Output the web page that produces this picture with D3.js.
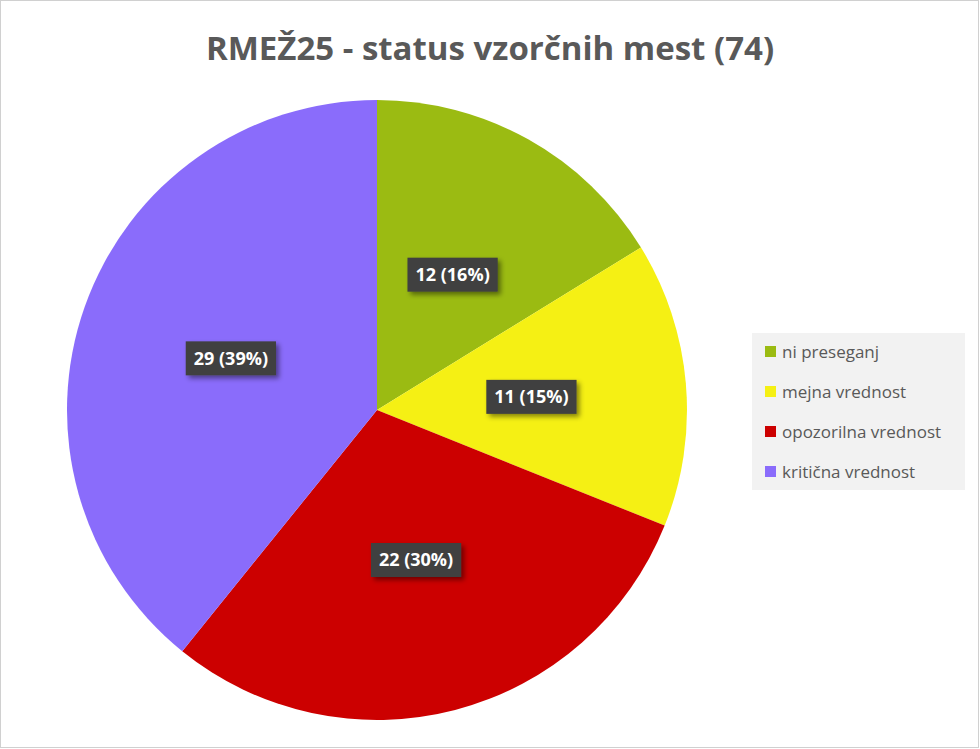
<!DOCTYPE html>
<html><head><meta charset="utf-8">
<script src="https://cdn.jsdelivr.net/npm/d3@7"></script>
<style>body{margin:0;background:#fff}svg{display:block}</style>
</head><body>
<script>
const categories = ["ni preseganj", "mejna vrednost", "opozorilna vrednost", "kritična vrednost"];
const values = [12, 11, 22, 29];
const colors = ["#9bbb12", "#f5f014", "#cc0000", "#8a6cfb"];
const titleText = "RMEŽ25 - status vzorčnih mest (74)";

const W = 980, H = 749;
const svg = d3.select("body").append("svg").attr("width", W).attr("height", H);
const defs = svg.append("defs");
const f = defs.append("filter").attr("id","sh").attr("x","-20%").attr("y","-20%").attr("width","150%").attr("height","160%");
f.append("feDropShadow").attr("dx",3).attr("dy",3).attr("stdDeviation",2.5).attr("flood-color","#000").attr("flood-opacity",0.45);

svg.append("rect").attr("x",0.5).attr("y",0.5).attr("width",W-2).attr("height",H-2).attr("fill","#fff").attr("stroke","#d0d0d0");

svg.append("text").attr("x",490).attr("y",60).attr("text-anchor","middle")
  .attr("font-family","Open Sans, sans-serif").attr("font-weight","bold").attr("font-size",33)
  .attr("fill","#595959").text(titleText);

const total = d3.sum(values);
const cx = 377, cy = 410, R = 310;
const pie = d3.pie().sort(null).value(d => d);
const arcs = pie(values);
const arc = d3.arc().innerRadius(0).outerRadius(R);
const g = svg.append("g").attr("transform", `translate(${cx},${cy})`);
g.selectAll("path").data(arcs).join("path").attr("d", arc).attr("fill", (d,i) => colors[i]);

const lab = g.selectAll("g.l").data(arcs).join("g").attr("class","l")
  .attr("transform", d => `translate(${arc.centroid(d)})`);
lab.each(function(d){
  const s = d3.select(this);
  const txt = `${d.data} (${Math.round(d.data/total*100)}%)`;
  const r = s.append("rect").attr("fill","#404040").attr("filter","url(#sh)");
  const t = s.append("text").attr("text-anchor","middle").attr("dy","0.36em")
    .attr("font-family","Open Sans, sans-serif").attr("font-weight","bold").attr("font-size",18)
    .attr("fill","#fff").text(txt);
  const b = t.node().getBBox();
  r.attr("x", b.x-8).attr("y", -17).attr("width", b.width+16).attr("height", 34);
});

svg.append("rect").attr("x",752).attr("y",333).attr("width",213).attr("height",157).attr("fill","#f2f2f2");
const leg = svg.selectAll("g.lg").data(categories).join("g").attr("class","lg")
  .attr("transform",(d,i)=>`translate(765,${352+i*40})`);
leg.append("rect").attr("x",0).attr("y",-6).attr("width",11).attr("height",11).attr("fill",(d,i)=>colors[i]);
leg.append("text").attr("x",17).attr("dy","0.35em").attr("font-family","Open Sans, sans-serif")
  .attr("font-size",17).attr("fill","#595959").text(d=>d);
</script>
</body></html>
